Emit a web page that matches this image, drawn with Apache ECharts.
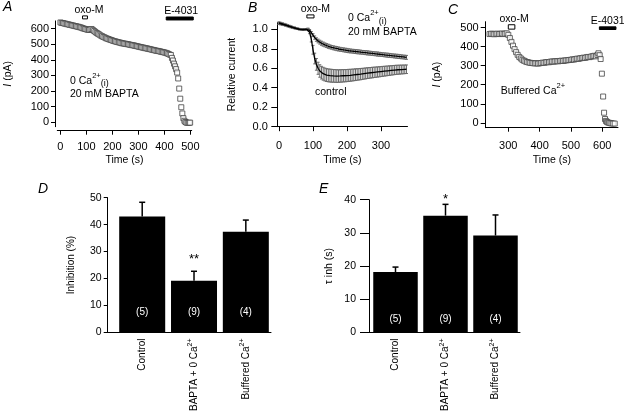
<!DOCTYPE html>
<html><head><meta charset="utf-8">
<script src="https://cdn.jsdelivr.net/npm/echarts@6/dist/echarts.min.js"></script>
<style>html,body{margin:0;padding:0;background:#fff}#c{width:624px;height:414px}</style>
</head><body><div id="c"></div>
<script>
// ---------------- DATA ----------------
// Panel A: current (pA) vs time (s), 0 Ca2+(i) / 20 mM BAPTA
const aTime = [0,5,10,15,20,25,30,35,40,45,50,55,60,65,70,75,80,85,90,95,100,105,110,115,120,125,130,135,140,145,150,155,160,165,170,175,180,185,190,195,200,205,210,215,220,225,230,235,240,245,250,255,260,265,270,275,280,285,290,295,300,305,310,315,320,325,330,335,340,345,350,355,360,365,370,375,380,385,390,395,400,405,410,415,420,425,429,433,437,441,445,449,453,457,461,465,469,473,477,481,485,490,495,499];
const aCurrent = [640,637,636,633,632,629,628,625,624,621,620,617,616,613,612,609,607,603,601,598,
  596,593,592,595,598,591,585,578,572,567,562,556,552,547,544,539,536,533,530,527,
  524,521,519,516,514,512,510,507,506,504,503,501,500,498,496,494,493,491,489,487,
  485,483,481,479,478,475,474,472,470,468,466,464,462,460,458,457,455,453,451,449,
  447,445,442,438,434,
  431,412,395,375,358,340,318,280,215,150,95,55,25,8,0,-4,-6,-5,-4];
const aDrugs = ['oxo-M', 'E-4031'];
const aDrugStart = [85, 407];
const aDrugEnd = [104, 511];
const aTicksX = [0, 100, 200, 300, 400, 500];
const aTicksY = [0, 100, 200, 300, 400, 500, 600];

// Panel B: relative current vs time (s)
const bTime = [0,5,10,15,20,25,30,35,40,45,50,55,60,65,70,75,80,85,90,95,100,105,110,115,120,125,130,135,140,145,150,155,160,165,170,175,180,185,190,195,200,205,210,215,220,225,230,235,240,245,250,255,260,265,270,275,280,285,290,295,300,305,310,315,320,325,330,335,340,345,350,355,360,365,370,375];
const bBapta = [1.06,1.056,1.052,1.047,1.042,1.036,1.03,1.025,1.02,1.015,1.01,1.005,1.0,0.998,0.997,0.998,1.0,1.006,
  0.99,0.965,0.94,0.915,0.895,0.88,0.868,0.857,0.848,0.84,0.833,0.826,0.82,0.815,0.81,0.806,0.802,0.798,0.795,0.792,0.789,0.786,0.783,0.78,0.778,0.776,0.774,0.772,0.77,0.768,0.766,0.764,0.762,0.76,0.758,0.756,0.754,0.752,0.75,0.748,0.746,0.744,0.742,0.74,0.738,0.736,0.734,0.732,0.73,0.728,0.726,0.724,0.722,0.72,0.718,0.716,0.714,0.712];
const bBaptaErr = [0.01,0.01,0.01,0.009,0.009,0.009,0.008,0.008,0.008,0.007,0.007,0.006,0.006,0.005,0.004,0.003,0.002,0.003,
  0.008,0.012,0.015,0.017,0.018,0.019,
  0.02,0.021,0.021,0.02,0.02,0.021,0.02,0.019,0.02,0.02,
  0.021,0.02,0.02,0.019,0.02,0.02,0.021,0.02,0.02,0.019,
  0.02,0.02,0.021,0.02,0.02,0.019,0.02,0.02,0.021,0.02,
  0.02,0.019,0.02,0.02,0.021,0.02,0.02,0.019,0.02,0.02,
  0.021,0.02,0.02,0.019,0.02,0.02,0.021,0.02,0.02,0.019,
  0.02,0.02];
const bControl = [1.065,1.06,1.055,1.05,1.044,1.038,1.032,1.026,1.02,1.015,1.01,1.006,1.002,0.999,0.998,0.999,1.0,1.008,
  0.97,0.9,0.79,0.7,0.64,0.6,0.572,0.555,0.544,0.536,0.53,0.527,0.525,0.523,0.522,0.521,0.52,0.52,0.521,0.522,0.523,0.524,0.525,0.527,0.528,0.53,0.532,0.534,0.536,0.538,0.54,0.542,0.545,0.547,0.55,0.552,0.554,0.556,0.558,0.56,0.562,0.564,0.566,0.568,0.57,0.572,0.574,0.576,0.578,0.58,0.582,0.584,0.585,0.586,0.587,0.588,0.589,0.59];
const bControlErr = [0.012,0.012,0.011,0.011,0.011,0.01,0.01,0.01,0.009,0.009,0.008,0.008,0.007,0.006,0.005,0.004,0.003,0.004,
  0.015,0.03,0.045,0.055,0.06,0.062,0.064,0.065,0.066,0.066,0.066,0.066,0.066,0.066,0.065,0.065,0.065,0.064,0.064,0.064,0.063,0.063,0.062,0.062,0.061,0.061,0.06,0.06,0.059,0.058,0.058,0.057,0.056,0.056,0.055,0.055,0.054,0.054,0.053,0.053,0.052,0.052,0.051,0.051,0.05,0.05,0.049,0.049,0.048,0.048,0.047,0.047,0.046,0.046,0.045,0.045,0.044,0.044];
const bDrugs = ['oxo-M'];
const bDrugStart = [82];
const bDrugEnd = [103];
const bTicksX = [0, 100, 200, 300];
const bTicksY = [0, 0.2, 0.4, 0.6, 0.8, 1.0];

// Panel C: current (pA) vs time (s), buffered Ca2+
const cTime = [240,245,250,255,260,265,270,275,280,285,290,295,300,305,310,315,320,325,330,335,340,345,350,355,360,365,370,375,380,385,390,395,400,405,410,415,420,425,430,435,440,445,450,455,460,465,470,475,480,485,490,495,500,505,510,515,520,525,530,535,540,545,550,555,560,565,570,575,580,585,588,592,595,599,603,606,609,612,615,618,622,626,630,635,640];
const cCurrent = [466,468,467,465,467,468,466,467,469,466,468,470,
  462,445,425,405,387,371,357,346,338,331,
  326,322,319,317,315,314,313,312,313,311,
  313,314,316,315,318,319,318,321,322,321,
  323,324,323,325,326,325,327,328,329,330,
  331,333,332,335,337,336,339,340,342,341,
  344,346,345,348,350,352,349,356,
  365,355,335,258,138,53,20,10,5,2,0,-2,-3,-4,-4];
const cDrugs = ['oxo-M', 'E-4031'];
const cDrugStart = [300, 591];
const cDrugEnd = [321, 644];
const cTicksX = [300, 400, 500, 600];
const cTicksY = [0, 100, 200, 300, 400, 500];

// Panels D and E: bar charts
const groups = ['Control', 'BAPTA + 0 Ca2+', 'Buffered Ca2+'];
const groupN = ['(5)', '(9)', '(4)'];
const dInhibition = [43.0, 19.2, 37.4];
const dErr = [5.3, 3.5, 4.3];
const dSig = ['', '**', ''];
const eTau = [18.2, 35.2, 29.2];
const eErr = [1.5, 3.4, 6.2];
const eSig = ['', '*', ''];

// ---------------- STYLE / LAYOUT ----------------
const FONT = '"Liberation Sans", Arial, Helvetica, sans-serif';
const SUPRICH = {
  n: {fontSize: 10.5, lineHeight: 16, verticalAlign: 'middle', fontFamily: FONT, color: '#000'},
  sup: {fontSize: 7.5, verticalAlign: 'middle', padding: [0, 0, 10, 0], fontFamily: FONT, color: '#000'},
  sub: {fontSize: 9, verticalAlign: 'middle', padding: [6, 0, 0, 0], fontFamily: FONT, color: '#000'}
};
const CATRICH = {
  sup: {fontSize: 7, lineHeight: 8, verticalAlign: 'top', fontFamily: FONT, color: '#000'}
};

function merge(a, b) {
  const o = Object.assign({}, a);
  for (const k in b) {
    const bv = b[k];
    if (bv && typeof bv === 'object' && !Array.isArray(bv) && a && a[k] && typeof a[k] === 'object' && !Array.isArray(a[k])) {
      o[k] = merge(a[k], bv);
    } else o[k] = bv;
  }
  return o;
}
const baseAxis = {
  type: 'value', splitLine: {show: false}, nameLocation: 'middle',
  axisLine: {show: true, onZero: false, lineStyle: {color: '#000', width: 1}},
  axisTick: {show: true, length: 4, lineStyle: {color: '#000', width: 1}},
  axisLabel: {color: '#000', fontFamily: FONT, fontSize: 11},
  nameTextStyle: {color: '#000', fontFamily: FONT, fontSize: 10.5}
};
const catFmt = v => {
  const s = groups[Math.round(v)];
  return s === undefined ? '' : s.replace('Ca2+', 'Ca{sup|2+}');
};

// annotation (drug application) bars: vertical band in data units per panel
function drugRender(names, bands, dx) {
  return function (params, api) {
    const i = params.dataIndex;
    const p0 = api.coord([api.value(0), bands[i][1]]);
    const p1 = api.coord([api.value(1), bands[i][0]]);
    const filled = names[i] === 'E-4031';
    return {
      type: 'group', children: [
        {type: 'rect', shape: {x: p0[0], y: p0[1], width: p1[0] - p0[0], height: p1[1] - p0[1]},
          style: {fill: filled ? '#000' : '#fff', stroke: '#000', lineWidth: 1}},
        {type: 'text', style: {text: names[i], x: (p0[0] + p1[0]) / 2 + dx[i], y: p0[1] - 6,
          align: 'center', verticalAlign: 'middle', fontSize: 10.5, fontFamily: FONT, fill: '#000'}}
      ]
    };
  };
}
function semRender(color) {
  return function (params, api) {
    const t = api.value(0), v = api.value(1), e = api.value(2);
    const lo = api.coord([t, v - e]), hi = api.coord([t, v + e]);
    const st = {stroke: color, lineWidth: 1};
    return {type: 'group', children: [
      {type: 'line', shape: {x1: lo[0], y1: lo[1], x2: hi[0], y2: hi[1]}, style: st},
      {type: 'line', shape: {x1: lo[0] - 1.5, y1: lo[1], x2: lo[0] + 1.5, y2: lo[1]}, style: st},
      {type: 'line', shape: {x1: hi[0] - 1.5, y1: hi[1], x2: hi[0] + 1.5, y2: hi[1]}, style: st}
    ]};
  };
}
function barErrRender(sig, starGap) {
  return function (params, api) {
    const i = params.dataIndex;
    const x = api.value(0), m = api.value(1), e = api.value(2);
    const b = api.coord([x, m]), t = api.coord([x, m + e]);
    const st = {stroke: '#000', lineWidth: 1.5};
    const ch = [
      {type: 'line', shape: {x1: b[0], y1: b[1], x2: t[0], y2: t[1]}, style: st},
      {type: 'line', shape: {x1: t[0] - 3, y1: t[1], x2: t[0] + 3, y2: t[1]}, style: st}
    ];
    if (sig[i]) ch.push({type: 'text', style: {text: sig[i], x: t[0], y: t[1] - starGap, align: 'center',
      verticalAlign: 'middle', fontSize: 13, fontFamily: FONT, fill: '#000'}});
    return {type: 'group', children: ch};
  };
}

const squareStyle = {color: '#fff', borderColor: '#444', borderWidth: 1};

const option = {
  animation: false,
  backgroundColor: '#fff',
  textStyle: {fontFamily: FONT},
  grid: [
    {left: 57.3, top: 20.9, width: 134.4, height: 105.8},
    {left: 277.3, top: 22.5, width: 130.2, height: 104.2},
    {left: 485.7, top: 21.7, width: 132.3, height: 106},
    {left: 107.7, top: 197.7, width: 163.3, height: 138},
    {left: 369, top: 199.7, width: 151, height: 136}
  ],
  xAxis: [
    merge(baseAxis, {gridIndex: 0, min: -12, max: 505, offset: 4, name: 'Time (s)', nameGap: 24,
      axisLabel: {customValues: aTicksX, margin: 10.5}, axisTick: {customValues: aTicksX}}),
    merge(baseAxis, {gridIndex: 1, min: -5, max: 378, name: 'Time (s)', nameGap: 28,
      axisLabel: {customValues: bTicksX, margin: 14}, axisTick: {customValues: bTicksX, length: 4.5}}),
    merge(baseAxis, {gridIndex: 2, min: 227.8, max: 650.5, name: 'Time (s)', nameGap: 27,
      axisLabel: {customValues: cTicksX, margin: 13}, axisTick: {customValues: cTicksX}}),
    merge(baseAxis, {gridIndex: 3, min: -0.666, max: 2.486, axisTick: {show: false},
      axisLabel: {customValues: [0, 1, 2], formatter: catFmt, rotate: 90, margin: 6, fontSize: 10, lineHeight: 14, rich: CATRICH}}),
    merge(baseAxis, {gridIndex: 4, min: -0.53, max: 2.49, axisTick: {show: false},
      axisLabel: {customValues: [0, 1, 2], formatter: catFmt, rotate: 90, margin: 6, fontSize: 10, lineHeight: 14, rich: CATRICH}})
  ],
  yAxis: [
    merge(baseAxis, {gridIndex: 0, min: -30, max: 650, offset: 2.3, name: '{it|I} (pA)', nameGap: 41,
      axisLabel: {customValues: aTicksY, margin: 6}, axisTick: {customValues: aTicksY},
      nameTextStyle: {rich: {it: {fontStyle: 'italic', fontFamily: FONT, fontSize: 10.5, color: '#000'}}}}),
    merge(baseAxis, {gridIndex: 1, min: 0, max: 1.07, name: 'Relative current', nameGap: 40,
      axisLabel: {customValues: bTicksY, margin: 9.5, formatter: v => v.toFixed(1)},
      axisTick: {customValues: bTicksY, length: 6}}),
    merge(baseAxis, {gridIndex: 2, min: -25.7, max: 531, name: '{it|I} (pA)', nameGap: 43,
      axisLabel: {customValues: cTicksY, margin: 7}, axisTick: {customValues: cTicksY, length: 5},
      nameTextStyle: {rich: {it: {fontStyle: 'italic', fontFamily: FONT, fontSize: 10.5, color: '#000'}}}}),
    merge(baseAxis, {gridIndex: 3, min: 0, max: 50, interval: 10, name: 'Inhibition (%)', nameGap: 31,
      axisLabel: {margin: 6, fontSize: 10.5}, nameTextStyle: {fontSize: 10}}),
    merge(baseAxis, {gridIndex: 4, min: 0, max: 40, interval: 10, name: 'τ inh (s)', nameGap: 34,
      axisLabel: {margin: 13, fontSize: 10.5}, axisTick: {length: 9}, nameTextStyle: {fontSize: 10.5}})
  ],
  series: [
    // Panel A
    {type: 'scatter', xAxisIndex: 0, yAxisIndex: 0, symbol: 'rect', symbolSize: 5, itemStyle: squareStyle,
      data: aTime.map((t, i) => [t, aCurrent[i]])},
    {type: 'custom', xAxisIndex: 0, yAxisIndex: 0, clip: false, silent: true,
      renderItem: drugRender(aDrugs, [[663, 682], [656, 675]], [4, 1.5]),
      data: aDrugStart.map((s, i) => [s, aDrugEnd[i]])},
    // Panel B
    {type: 'custom', xAxisIndex: 1, yAxisIndex: 1, silent: true, renderItem: semRender('#6a6a6a'),
      data: bTime.map((t, i) => [t, bControl[i], bControlErr[i]])},
    {type: 'custom', xAxisIndex: 1, yAxisIndex: 1, silent: true, renderItem: semRender('#6a6a6a'),
      data: bTime.map((t, i) => [t, bBapta[i], bBaptaErr[i]])},
    {type: 'line', xAxisIndex: 1, yAxisIndex: 1, symbol: 'none', lineStyle: {color: '#000', width: 1.3},
      data: bTime.map((t, i) => [t, bControl[i]]), z: 5},
    {type: 'line', xAxisIndex: 1, yAxisIndex: 1, symbol: 'none', lineStyle: {color: '#000', width: 1.3},
      data: bTime.map((t, i) => [t, bBapta[i]]), z: 5},
    {type: 'custom', xAxisIndex: 1, yAxisIndex: 1, clip: false, silent: true,
      renderItem: drugRender(bDrugs, [[1.117, 1.148]], [5]),
      data: bDrugStart.map((s, i) => [s, bDrugEnd[i]])},
    // Panel C
    {type: 'scatter', xAxisIndex: 2, yAxisIndex: 2, symbol: 'rect', symbolSize: 5, itemStyle: squareStyle,
      data: cTime.map((t, i) => [t, cCurrent[i]])},
    {type: 'custom', xAxisIndex: 2, yAxisIndex: 2, clip: false, silent: true,
      renderItem: drugRender(cDrugs, [[492, 515], [490, 504]], [2.5, 0]),
      data: cDrugStart.map((s, i) => [s, cDrugEnd[i]])},
    // Panel D
    {type: 'bar', xAxisIndex: 3, yAxisIndex: 3, barWidth: 46, itemStyle: {color: '#000'},
      label: {show: true, position: 'insideBottom', distance: 15, color: '#fff', fontSize: 10, fontFamily: FONT,
        formatter: p => groupN[p.dataIndex]},
      data: groups.map((g, i) => [i, dInhibition[i]])},
    {type: 'custom', xAxisIndex: 3, yAxisIndex: 3, clip: false, silent: true, z: 3,
      renderItem: barErrRender(dSig, 12),
      data: groups.map((g, i) => [i, dInhibition[i], dErr[i]])},
    // Panel E
    {type: 'bar', xAxisIndex: 4, yAxisIndex: 4, barWidth: 44.5, itemStyle: {color: '#000'},
      label: {show: true, position: 'insideBottom', distance: 8.7, color: '#fff', fontSize: 10, fontFamily: FONT,
        formatter: p => groupN[p.dataIndex]},
      data: groups.map((g, i) => [i, eTau[i]])},
    {type: 'custom', xAxisIndex: 4, yAxisIndex: 4, clip: false, silent: true, z: 3,
      renderItem: barErrRender(eSig, 5),
      data: groups.map((g, i) => [i, eTau[i], eErr[i]])}
  ],
  graphic: [
    {type: 'text', x: 3, y: 7, style: {text: 'A', font: 'italic 14px ' + FONT, verticalAlign: 'middle', fill: '#000'}},
    {type: 'text', x: 248, y: 8.3, style: {text: 'B', font: 'italic 14px ' + FONT, verticalAlign: 'middle', fill: '#000'}},
    {type: 'text', x: 448, y: 10, style: {text: 'C', font: 'italic 14px ' + FONT, verticalAlign: 'middle', fill: '#000'}},
    {type: 'text', x: 38, y: 189, style: {text: 'D', font: 'italic 14px ' + FONT, verticalAlign: 'middle', fill: '#000'}},
    {type: 'text', x: 319, y: 189, style: {text: 'E', font: 'italic 14px ' + FONT, verticalAlign: 'middle', fill: '#000'}},
    {type: 'text', x: 70, y: 81, style: {text: '{n|0 Ca}{sup|2+}{sub|(i)}', fontSize: 10.5, fontFamily: FONT, verticalAlign: 'middle', fill: '#000', rich: SUPRICH}},
    {type: 'text', x: 70, y: 94.3, style: {text: '20 mM BAPTA', fontSize: 10.5, fontFamily: FONT, verticalAlign: 'middle', fill: '#000'}},
    {type: 'text', x: 348, y: 18.3, style: {text: '{n|0 Ca}{sup|2+}{sub|(i)}', fontSize: 10.5, fontFamily: FONT, verticalAlign: 'middle', fill: '#000', rich: SUPRICH}},
    {type: 'text', x: 348, y: 32.3, style: {text: '20 mM BAPTA', fontSize: 10.5, fontFamily: FONT, verticalAlign: 'middle', fill: '#000'}},
    {type: 'text', x: 315, y: 92.5, style: {text: 'control', fontSize: 10.5, fontFamily: FONT, verticalAlign: 'middle', fill: '#000'}},
    {type: 'text', x: 500.7, y: 90.7, style: {text: '{n|Buffered Ca}{sup|2+}', fontSize: 10.5, fontFamily: FONT, verticalAlign: 'middle', fill: '#000', rich: SUPRICH}}
  ]
};

const chart = echarts.init(document.getElementById('c'), null, {renderer: 'canvas'});
chart.setOption(option);
</script>
</body></html>
